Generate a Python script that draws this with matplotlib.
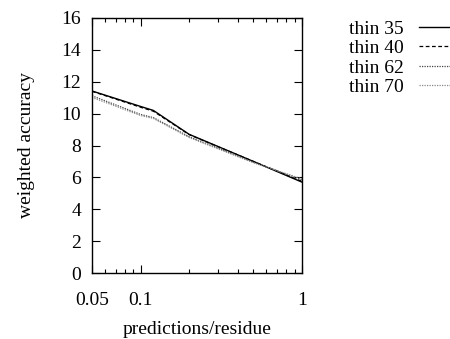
import numpy as np
import matplotlib
matplotlib.use("Agg")
import matplotlib.pyplot as plt
from matplotlib.ticker import FixedLocator, FixedFormatter, NullFormatter

# values
x = [0.05, 0.1, 0.12, 0.2, 0.5, 1.0]
thin35 = [11.42, 10.45, 10.2, 8.7, 7.0, 5.7]
thin40 = [11.40, 10.40, 10.15, 8.68, 7.0, 5.75]
thin62 = [11.12, 9.95, 9.75, 8.55, 6.95, 5.85]
thin70 = [11.02, 9.88, 9.7, 8.5, 6.92, 5.9]
labels = ["thin 35", "thin 40", "thin 62", "thin 70"]

plt.rcParams['font.family'] = ['Liberation Serif', 'DejaVu Serif']
plt.rcParams['font.size'] = 14

fig = plt.figure(figsize=(4.5, 3.39), dpi=100)
ax = fig.add_axes([92/450, 66/339, 210/450, 255/339])

ax.plot(x, thin35, color='black', lw=1.0, ls='-', label=labels[0])
ax.plot(x, thin40, color='black', lw=0.9, ls=(0, (3, 2)), label=labels[1])
ax.plot(x, thin62, color='#444444', lw=0.9, ls=(0, (1, 1)), label=labels[2])
ax.plot(x, thin70, color='#888888', lw=0.9, ls=(0, (1, 1)), label=labels[3])

ax.set_xscale('log')
ax.set_xlim(0.05, 1)
ax.set_ylim(0, 16)
ax.xaxis.set_major_locator(FixedLocator([0.05, 0.1, 1]))
ax.xaxis.set_major_formatter(FixedFormatter(["0.05", "0.1", "1"]))
ax.xaxis.set_minor_locator(FixedLocator([0.06, 0.07, 0.08, 0.09, 0.2, 0.3, 0.4, 0.5, 0.6, 0.7, 0.8, 0.9]))
ax.xaxis.set_minor_formatter(NullFormatter())
ax.set_yticks(range(0, 17, 2))

ax.tick_params(which='major', direction='in', length=6, width=0.8, top=True, right=True)
ax.tick_params(which='minor', direction='in', length=3, width=0.8, top=True, right=True)
ax.tick_params(axis='x', which='major', pad=14)
ax.tick_params(axis='y', which='major', pad=8)
for s in ax.spines.values():
    s.set_linewidth(1.0)

ax.set_xlabel("predictions/residue", labelpad=8)
ax.set_ylabel("weighted accuracy", labelpad=19)

ax.legend(loc='upper left', bbox_to_anchor=(349/450, 1 - 20/339), bbox_transform=fig.transFigure,
          frameon=False, markerfirst=False, handlelength=1.9, handletextpad=0.8,
          labelspacing=0.1, borderaxespad=0, borderpad=0)

fig.savefig("out.png", dpi=100)
